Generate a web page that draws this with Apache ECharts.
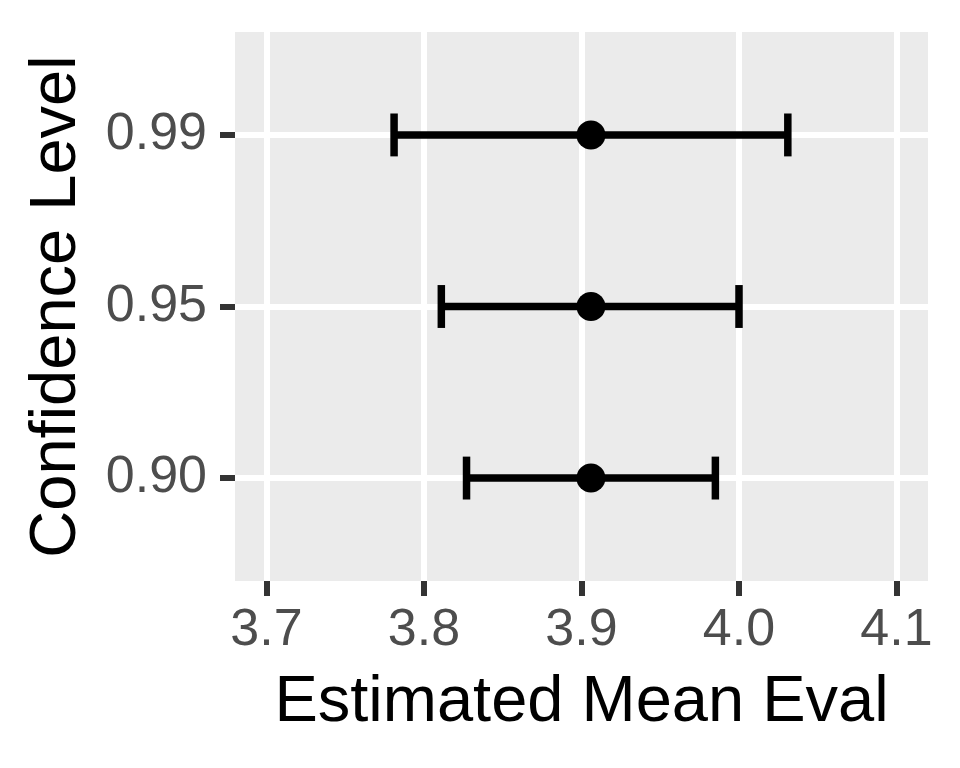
<!DOCTYPE html>
<html>
<head>
<meta charset="utf-8">
<script src="https://cdn.jsdelivr.net/npm/echarts@6/dist/echarts.min.js"></script>
<style>
  html, body { margin: 0; padding: 0; background: #fff; }
  #main { width: 960px; height: 768px; }
</style>
</head>
<body>
<div id="main"></div>
<script>
// data
var levels = ['0.90', '0.95', '0.99'];
var estimate = [3.906, 3.906, 3.906];
var lower = [3.827, 3.811, 3.781];
var upper = [3.985, 4.000, 4.031];
var xTicks = [3.7, 3.8, 3.9, 4.0, 4.1];

var font = "'Liberation Sans', Arial, sans-serif";
var myChart = echarts.init(document.getElementById('main'));

var pointData = [], barData = [];
for (var i = 0; i < levels.length; i++) {
  pointData.push([estimate[i], i]);
  barData.push([lower[i], upper[i], i]);
}

// horizontal error bar with caps
function renderBar(params, api) {
  var y = api.value(2);
  var lo = api.coord([api.value(0), y]);
  var hi = api.coord([api.value(1), y]);
  var top = api.coord([api.value(0), y + 0.125])[1];
  var bot = api.coord([api.value(0), y - 0.125])[1];
  var st = { stroke: '#000', lineWidth: 7.5, lineCap: 'butt' };
  return {
    type: 'group',
    children: [
      { type: 'line', shape: { x1: lo[0], y1: lo[1], x2: hi[0], y2: hi[1] }, style: st },
      { type: 'line', shape: { x1: lo[0], y1: top, x2: lo[0], y2: bot }, style: st },
      { type: 'line', shape: { x1: hi[0], y1: top, x2: hi[0], y2: bot }, style: st }
    ]
  };
}

var option = {
  animation: false,
  grid: {
    left: 235, right: 32, top: 32, bottom: 187,
    outerBoundsMode: 'none',
    containLabel: false,
    show: true, backgroundColor: '#EBEBEB', borderWidth: 0
  },
  xAxis: {
    type: 'value',
    min: 3.68, max: 4.12,
    name: 'Estimated Mean Eval',
    nameLocation: 'middle',
    nameGap: 90,
    nameTextStyle: { color: '#000', fontSize: 65, fontFamily: font },
    axisLine: { show: false, onZero: false },
    axisTick: { show: true, length: 15, customValues: xTicks, lineStyle: { color: '#333', width: 6 } },
    axisLabel: {
      customValues: xTicks, margin: 24, color: '#4D4D4D', fontSize: 52, fontFamily: font,
      formatter: function (v) { return v.toFixed(1); }
    },
    splitLine: { show: true, lineStyle: { color: '#fff', width: 6 } }
  },
  yAxis: {
    type: 'value',
    min: -0.6, max: 2.6,
    name: 'Confidence Level',
    nameLocation: 'middle',
    nameGap: 145,
    nameRotate: 90,
    nameTextStyle: { color: '#000', fontSize: 65, fontFamily: font },
    axisLine: { show: false, onZero: false },
    axisTick: { show: true, length: 15, customValues: [0, 1, 2], lineStyle: { color: '#333', width: 6 } },
    axisLabel: {
      customValues: [0, 1, 2], margin: 28, color: '#4D4D4D', fontSize: 52, fontFamily: font,
      formatter: function (v) { return levels[Math.round(v)]; }
    },
    splitLine: { show: true, lineStyle: { color: '#fff', width: 6 } }
  },
  series: [
    {
      type: 'custom',
      renderItem: renderBar,
      encode: { x: [0, 1], y: 2 },
      data: barData,
      z: 2
    },
    {
      type: 'scatter',
      symbol: 'circle',
      symbolSize: 29,
      itemStyle: { color: '#000', opacity: 1 },
      data: pointData,
      z: 3
    }
  ]
};

myChart.setOption(option);
</script>
</body>
</html>
